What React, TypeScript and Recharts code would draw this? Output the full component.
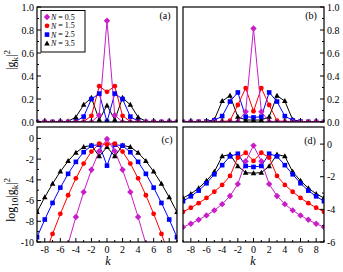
import React from "react";
import { LineChart, Line, XAxis, YAxis } from "recharts";

// k = -9 .. 9
const K = [-9, -8, -7, -6, -5, -4, -3, -2, -1, 0, 1, 2, 3, 4, 5, 6, 7, 8, 9];

// panels (a) / (c): |g_k|^2
const A05 = [1.07e-22, 1.387e-19, 1.42e-16, 1.114e-13, 6.415e-11, 2.569e-8, 6.574e-6, 9.366e-4, 0.05869, 0.8807, 0.05869, 9.366e-4, 6.574e-6, 2.569e-8, 6.415e-11, 1.114e-13, 1.42e-16, 1.387e-19, 1.07e-22];
const A15 = [3.61e-14, 5.321e-12, 6.065e-10, 5.198e-8, 3.238e-6, 1.385e-4, 3.717e-3, 0.05387, 0.3113, 0.262, 0.3113, 0.05387, 3.717e-3, 1.385e-4, 3.238e-6, 5.198e-8, 6.065e-10, 5.321e-12, 3.61e-14];
const A25 = [2.868e-10, 1.477e-8, 5.912e-7, 1.773e-5, 3.803e-4, 5.444e-3, 0.04692, 0.199, 0.2471, 2.341e-3, 0.2471, 0.199, 0.04692, 5.444e-3, 3.803e-4, 1.773e-5, 5.912e-7, 1.477e-8, 2.868e-10];
const A35 = [7.755e-8, 2.083e-6, 4.262e-5, 6.338e-4, 6.471e-3, 0.04178, 0.1496, 0.2103, 0.01887, 0.1445, 0.01887, 0.2103, 0.1496, 0.04178, 6.471e-3, 6.338e-4, 4.262e-5, 2.083e-6, 7.755e-8];

// panels (b) / (d): |g_k|^2
const B05 = [8.13e-6, 1.32e-5, 2.29e-5, 4.27e-5, 8.71e-5, 2.09e-4, 6.61e-4, 3.55e-3, 0.0891, 0.813, 0.0891, 3.55e-3, 6.61e-4, 2.09e-4, 8.71e-5, 4.27e-5, 2.29e-5, 1.32e-5, 8.13e-6];
const B15 = [7.08e-5, 1.26e-4, 2.4e-4, 5.01e-4, 1.2e-3, 3.16e-3, 0.0112, 0.148, 0.295, 0.0933, 0.295, 0.148, 0.0112, 3.16e-3, 1.2e-3, 5.01e-4, 2.4e-4, 1.26e-4, 7.08e-5];
const B25 = [3.16e-4, 6.31e-4, 1.41e-3, 3.98e-3, 0.0141, 0.0513, 0.178, 0.257, 0.0457, 0.0398, 0.0457, 0.257, 0.178, 0.0513, 0.0141, 3.98e-3, 1.41e-3, 6.31e-4, 3.16e-4];
const B35 = [5.01e-4, 8.91e-4, 2.0e-3, 5.62e-3, 0.02, 0.182, 0.229, 0.0447, 0.0178, 0.0166, 0.0178, 0.0447, 0.229, 0.182, 0.02, 5.62e-3, 2.0e-3, 8.91e-4, 5.01e-4];

const LIN_TICKS = [0, 0.1, 0.2, 0.3, 0.4, 0.5, 0.6, 0.7, 0.8, 0.9, 1.0];
const LOG_TICKS_C = [1e-10, 1e-9, 1e-8, 1e-7, 1e-6, 1e-5, 1e-4, 1e-3, 1e-2, 1e-1, 1];
const LOG_TICKS_D = [1e-6, 1e-5, 1e-4, 1e-3, 1e-2, 1e-1, 1];

const SERIES = [
  { key: "n35", label: "3.5", color: "#000000", shape: "triangle" },
  { key: "n25", label: "2.5", color: "#0000ff", shape: "square" },
  { key: "n15", label: "1.5", color: "#ff0000", shape: "circle" },
  { key: "n05", label: "0.5", color: "#c81ec8", shape: "diamond" },
];

const FONT = "'Liberation Serif', 'DejaVu Serif', serif";
const AXIS_W = 20;
const AXIS_H = 20;

const dataA = K.map((k, i) => ({ k, n05: A05[i], n15: A15[i], n25: A25[i], n35: A35[i] }));
const dataB = K.map((k, i) => ({ k, n05: B05[i], n15: B15[i], n25: B25[i], n35: B35[i] }));

function marker(shape: string, cx: number, cy: number, color: string, key?: any) {
  if (shape === "circle") return <circle key={key} cx={cx} cy={cy} r={2.4} fill={color} />;
  if (shape === "square") return <rect key={key} x={cx - 2.3} y={cy - 2.3} width={4.6} height={4.6} fill={color} />;
  if (shape === "triangle")
    return <path key={key} d={`M${cx},${cy - 3}L${cx + 2.8},${cy + 2}L${cx - 2.8},${cy + 2}Z`} fill={color} />;
  const r = 3.2;
  return <path key={key} d={`M${cx},${cy - r}L${cx + r},${cy}L${cx},${cy + r}L${cx - r},${cy}Z`} fill={color} />;
}

function dotFor(shape: string, color: string) {
  return (p: any) => {
    if (p.cx == null || p.cy == null || !isFinite(p.cy)) return <g key={p.index} />;
    return marker(shape, p.cx, p.cy, color, p.index);
  };
}

function YTick(p: any) {
  const { x, y, payload, side, log } = p;
  const v = payload.value;
  let major: boolean;
  let text = "";
  if (log) {
    const e = Math.round(Math.log10(v));
    major = e % 2 === 0;
    text = e === 0 ? "0" : `-${-e}`;
  } else {
    major = Math.round(v * 10) % 2 === 0;
    text = v.toFixed(1);
  }
  const len = major ? 4 : 2;
  const dir = side === "left" ? 1 : -1;
  return (
    <g>
      <line x1={x} x2={x + dir * len} y1={y} y2={y} stroke="#000" strokeWidth={1} />
      {major && (
        <text
          x={side === "left" ? x - 3 : x + 3}
          y={y}
          textAnchor={side === "left" ? "end" : "start"}
          dominantBaseline="central"
          fontFamily={FONT}
          fontSize={10}
          fill="#000"
        >
          {text}
        </text>
      )}
    </g>
  );
}

function XTick(p: any) {
  const { x, y, payload, labels } = p;
  const v = payload.value;
  const major = v % 2 === 0;
  return (
    <g>
      <line x1={x} x2={x} y1={y} y2={y - (major ? 4 : 2)} stroke="#000" strokeWidth={1} />
      {labels && major && (
        <text x={x} y={y + 11} textAnchor="middle" fontFamily={FONT} fontSize={10} fill="#000">
          {v}
        </text>
      )}
    </g>
  );
}

function Panel(props: any) {
  const { data, left, top, width, height, log, side, xLabels, domain, ticks } = props;
  const margin = {
    top,
    left: side === "left" ? left - AXIS_W : left,
    right: side === "right" ? 343 - left - width - AXIS_W : 343 - left - width,
    bottom: 272 - top - height - AXIS_H,
  };
  return (
    <div style={{ position: "absolute", left: 0, top: 0 }}>
      <LineChart width={343} height={272} data={data} margin={margin}>
        <XAxis
          dataKey="k"
          type="number"
          domain={[-9, 9]}
          ticks={K}
          interval={0}
          allowDataOverflow
          height={AXIS_H}
          tickSize={0}
          tickMargin={0}
          axisLine={false}
          tickLine={false}
          tick={(p: any) => <XTick {...p} labels={xLabels} />}
        />
        <YAxis
          orientation={side}
          width={AXIS_W}
          scale={log ? "log" : "linear"}
          domain={domain}
          ticks={ticks}
          interval={0}
          allowDataOverflow
          tickSize={0}
          tickMargin={0}
          axisLine={false}
          tickLine={false}
          tick={(p: any) => <YTick {...p} side={side} log={log} />}
        />
        {SERIES.map((s) => (
          <Line
            key={s.key}
            dataKey={s.key}
            type="linear"
            stroke={s.color}
            strokeWidth={1}
            dot={dotFor(s.shape, s.color)}
            activeDot={false}
            isAnimationActive={false}
          />
        ))}
      </LineChart>
    </div>
  );
}

const PANELS = [
  { id: "(a)", left: 37, top: 7, width: 140, height: 115 },
  { id: "(b)", left: 183, top: 7, width: 141, height: 115 },
  { id: "(c)", left: 37, top: 127, width: 140, height: 115 },
  { id: "(d)", left: 183, top: 127, width: 141, height: 115 },
];

export default function App() {
  const legendOrder = [...SERIES].reverse();
  return (
    <div style={{ position: "absolute", left: 0, top: 0, width: 343, height: 272, background: "#fff", overflow: "hidden" }}>
      <Panel data={dataA} {...PANELS[0]} side="left" domain={[0, 1]} ticks={LIN_TICKS} xLabels={false} />
      <Panel data={dataB} {...PANELS[1]} side="right" domain={[0, 1]} ticks={LIN_TICKS} xLabels={false} />
      <Panel data={dataA} {...PANELS[2]} side="left" log domain={[1e-10, 12.6]} ticks={LOG_TICKS_C} xLabels />
      <Panel data={dataB} {...PANELS[3]} side="right" log domain={[1e-6, 11.2]} ticks={LOG_TICKS_D} xLabels />
      <svg width={343} height={272} style={{ position: "absolute", left: 0, top: 0, pointerEvents: "none" }}>
        {PANELS.map((p) => (
          <rect key={p.id} x={p.left} y={p.top} width={p.width} height={p.height} fill="none" stroke="#000" strokeWidth={1.2} />
        ))}
        <g fontFamily={FONT} fontSize={10} fill="#000">
          <text x={165} y={19} textAnchor="middle">(a)</text>
          <text x={311} y={19} textAnchor="middle">(b)</text>
          <text x={167} y={143} textAnchor="middle">(c)</text>
          <text x={310} y={144} textAnchor="middle">(d)</text>
        </g>
        <g fontFamily={FONT} fontSize={12} fill="#000">
          <text transform="translate(15,60) rotate(-90)" textAnchor="middle">
            |g<tspan fontSize={9} dy={3}>k</tspan><tspan dy={-3}>|</tspan><tspan fontSize={9} dy={-5}>2</tspan>
          </text>
          <text transform="translate(15,200) rotate(-90)" textAnchor="middle">
            log<tspan fontSize={9} dy={3}>10</tspan><tspan dy={-3}>|g</tspan><tspan fontSize={9} dy={3}>k</tspan><tspan dy={-3}>|</tspan><tspan fontSize={9} dy={-5}>2</tspan>
          </text>
          <text x={108} y={265} textAnchor="middle" fontStyle="italic">k</text>
          <text x={253} y={265} textAnchor="middle" fontStyle="italic">k</text>
        </g>
        <rect x={41} y={10.5} width={44} height={41.5} fill="#fff" stroke="#000" strokeWidth={1} />
        {legendOrder.map((s, i) => {
          const y = 17 + i * 8.8;
          return (
            <g key={s.key}>
              {marker(s.shape, 47, y, s.color)}
              <text x={51} y={y} dominantBaseline="central" fontFamily={FONT} fontSize={8} fill="#000">
                <tspan fontStyle="italic">N</tspan> = {s.label}
              </text>
            </g>
          );
        })}
      </svg>
    </div>
  );
}
